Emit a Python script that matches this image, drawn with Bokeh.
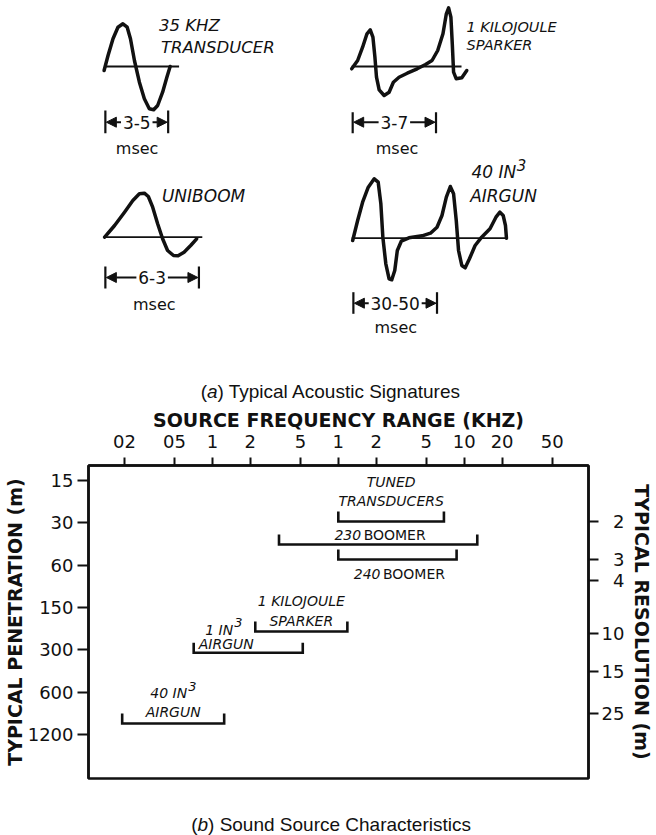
import math
from bokeh.plotting import figure
from bokeh.layouts import column
from bokeh.models import Range1d, FixedTicker, LinearAxis, Arrow, NormalHead, ColumnDataSource
from bokeh.core.properties import value
from bokeh.embed import file_html
from bokeh.resources import INLINE

# ------------------------------------------------------------------ data
# (a) typical acoustic signatures: time along trace, amplitude (sketch units)
transducer_t = [0, 4, 9, 14, 19, 23.3, 26.6, 30.6, 35.6, 40.6, 45.6, 50, 54, 59, 63.3, 66.6]
transducer_a = [-4, 11, 27.7, 39.3, 42.7, 39.3, 27.7, 6, -15.7, -32.3, -42.3, -43.3, -39, -25.7, -10.7, 0]

sparker_t = [0, 6, 11, 15.4, 18.7, 21.4, 23.4, 25, 27.7, 32.7, 37.7, 42, 47.7, 56, 66, 74.4,
             81, 86.7, 92, 95.4, 97.7, 100, 101.4, 102.7, 105.4, 111, 116]
sparker_a = [-2.3, 6, 19.3, 32.7, 36.7, 29.3, 9.3, -10.7, -23.3, -29, -25.7, -15.7, -10.7, -6.7, -2.3, 2,
             6, 16, 32.7, 52.7, 58.7, 49.3, 22.7, -5.7, -12.3, -11.3, -4]

uniboom_t = [0, 10, 20, 28.4, 35, 40, 44, 48.4, 53.4, 58.4, 63.4, 69.4, 74, 80, 86.7, 92.7]
uniboom_a = [0, 11.7, 25, 36.7, 43.4, 44, 40.7, 30, 13.4, -1.6, -13.3, -18.3, -18.6, -15, -8.3, -1.6]

airgun_t = [1, 6, 11, 16.7, 22.7, 26.7, 29.4, 31.4, 34.4, 37.7, 40.4, 43.4, 46, 50, 57.7, 71, 79.4, 86,
            91, 95.4, 99.4, 102.7, 105.4, 107.7, 111, 114.4, 118.7, 124.4, 131, 139.4, 145.4, 149.4,
            152.7, 155, 156]
airgun_a = [-2.3, 17.7, 36, 51, 59.4, 56, 34.4, 1, -25.6, -40.6, -41.6, -32.3, -12.3, -3, 0.4, 2.4, 5, 11,
            22.7, 41, 51.7, 44.4, 17.7, -12.3, -27.3, -29.6, -20.6, -7.3, 1, 9.4, 21, 26,
            22.7, 12.7, 0]

pulse_labels = ["3-5", "3-7", "6-3", "30-50"]
pulse_unit = "msec"
sig_line1 = ["35 KHZ", "1 KILOJOULE", "UNIBOOM", "40 IN"]
sig_line2 = ["TRANSDUCER", "SPARKER", "", "AIRGUN"]

# (b) sound source characteristics
freq_ticks = [0.02, 0.05, 0.1, 0.2, 0.5, 1, 2, 5, 10, 20, 50]
freq_tick_labels = ["02", "05", "1", "2", "5", "1", "2", "5", "10", "20", "50"]
pen_labels = ["15", "30", "60", "150", "300", "600", "1200"]
res_labels = ["2", "3", "4", "10", "15", "25"]
res_pos = [0.969, 1.866, 2.362, 3.614, 4.512, 5.504]      # on the penetration-row scale

src_low = [1.0, 0.338, 1.0, 0.219, 0.071, 0.0192]           # kHz
src_high = [6.9, 12.7, 8.7, 1.18, 0.522, 0.124]             # kHz
src_pen = [0.969, 1.512, 1.866, 3.567, 4.07, 5.74]          # penetration row

caption_a = ("(", "a", ") Typical Acoustic Signatures")
caption_b = ("(", "b", ") Sound Source Characteristics")

# ------------------------------------------------------------------ style / layout
INK = "#111111"
SANS = value("DejaVu Sans")
ARIAL = value("Liberation Sans")
W = 656
TOP_H, CH_H, CAP_H = 402, 398, 35
CH_TOP = 63
BL, BR = 87, 65                      # left / right borders shared by all panels
FX0, FX1 = BL, W - BR                # frame extent in page pixels

# ------------------------------------------------------------------ (a) panel
ptop = figure(width=W, height=TOP_H, x_range=Range1d(FX0, FX1), y_range=Range1d(TOP_H, 0),
              x_axis_location=None, y_axis_location=None, output_backend="svg",
              toolbar_location=None, min_border_left=BL, min_border_right=BR,
              min_border_top=0, min_border_bottom=0, outline_line_color=None)
ptop.grid.visible = False

panels = [
    dict(t=transducer_t, a=transducer_a, ox=102.7, oy=66, base=75.6, bars=(104, 167.3), bar_y=(110, 132.7),
         dim_y=121.7, unit=(136, 148), l1=(158, 25, 16.5), l2=(160, 47, 16.5)),
    dict(t=sparker_t, a=sparker_a, ox=352.3, oy=66, base=110.7, bars=(353.3, 437.3), bar_y=(111.7, 132.7),
         dim_y=121.7, unit=(398, 148), l1=(468, 26, 14.5), l2=(468, 44.7, 14.5)),
    dict(t=uniboom_t, a=uniboom_a, ox=103.3, oy=236.7, base=98.4, bars=(104, 198.3), bar_y=(266, 288),
         dim_y=277, unit=(153.3, 304), l1=(161, 195, 17), l2=(161, 215, 17)),
    dict(t=airgun_t, a=airgun_a, ox=352.3, oy=237.7, base=156, bars=(354, 438.3), bar_y=(291.7, 313.3),
         dim_y=302.7, unit=(396.7, 327), l1=(473, 171.6, 17), l2=(471.7, 195, 17)),
]

def text_width(s, fs):
    w = {"-": 0.361, " ": 0.318, "I": 0.295, "N": 0.748}
    return sum(w.get(c, 0.636) for c in s) * fs

ar = dict(x0=[], y0=[], x1=[], y1=[])
for i, pn in enumerate(panels):
    xs = [pn["ox"] + t for t in pn["t"]]
    ys = [pn["oy"] - a for a in pn["a"]]
    ptop.line([pn["ox"], pn["ox"] + pn["base"]], [pn["oy"], pn["oy"]], line_color=INK, line_width=1.8)
    ptop.line(xs, ys, line_color=INK, line_width=3.5, line_join="round", line_cap="round")
    bl, br = pn["bars"]
    ptop.segment(x0=[bl, br], y0=[pn["bar_y"][0]] * 2, x1=[bl, br], y1=[pn["bar_y"][1]] * 2,
                 line_color=INK, line_width=2.2)
    mid = (bl + br) / 2
    half = text_width(pulse_labels[i], 17) / 2 + 2
    ar["x0"] += [mid - half, mid + half]
    ar["x1"] += [bl + 1, br - 1]
    ar["y0"] += [pn["dim_y"]] * 2
    ar["y1"] += [pn["dim_y"]] * 2
    ptop.text(x=[mid], y=[pn["dim_y"]], text=[pulse_labels[i]], text_font=SANS, text_font_size="17px",
              text_align="center", text_baseline="middle", text_color=INK)
    ptop.text(x=[pn["unit"][0]], y=[pn["unit"][1]], text=[pulse_unit], text_font=SANS,
              text_font_size="16px", text_align="center", text_baseline="middle", text_color=INK)
    for lab, pos in ((sig_line1[i], pn["l1"]), (sig_line2[i], pn["l2"])):
        if lab:
            ptop.text(x=[pos[0]], y=[pos[1]], text=[lab], text_font=SANS, text_font_size=f"{pos[2]}px",
                      text_font_style="italic", text_align="left", text_baseline="middle", text_color=INK)

# superscript 3 of "40 IN3"
pn = panels[3]
ptop.text(x=[pn["l1"][0] + text_width(sig_line1[3], 17) + 1], y=[pn["l1"][1] - 7], text=["3"],
          text_font=SANS, text_font_size="15px", text_font_style="italic", text_align="left",
          text_baseline="middle", text_color=INK)

ptop.add_layout(Arrow(end=NormalHead(size=10, line_color=INK, fill_color=INK, line_width=1),
                      source=ColumnDataSource(ar), x_start="x0", y_start="y0", x_end="x1", y_end="y1",
                      line_color=INK, line_width=2))

# caption (a)
cap_fs = 19
cx, cy = 331, 390.5
tot = 13.78 * cap_fs
x0 = cx - tot / 2
ptop.text(x=[x0], y=[cy], text=[caption_a[0]], text_font=ARIAL, text_font_size=f"{cap_fs}px",
          text_baseline="middle", text_color=INK)
ptop.text(x=[x0 + 0.333 * cap_fs], y=[cy], text=[caption_a[1]], text_font=ARIAL,
          text_font_size=f"{cap_fs}px", text_font_style="italic", text_baseline="middle", text_color=INK)
ptop.text(x=[x0 + 0.889 * cap_fs], y=[cy], text=[caption_a[2]], text_font=ARIAL,
          text_font_size=f"{cap_fs}px", text_baseline="middle", text_color=INK)

# ------------------------------------------------------------------ (b) chart
pc = figure(width=W, height=CH_H, x_axis_type="log", x_range=Range1d(0.01037, 97.1),
            y_range=Range1d(7.04, -0.354), x_axis_location="above", y_axis_location="left",
            output_backend="svg", toolbar_location=None,
            min_border_left=BL, min_border_right=BR, min_border_top=CH_TOP, min_border_bottom=22)
pc.xgrid.grid_line_color = None
pc.ygrid.grid_line_color = None
pc.outline_line_color = INK
pc.outline_line_width = 2.5

def style_axis(ax, tick_out, label):
    ax.axis_line_color = INK
    ax.axis_line_width = 2.5
    ax.major_tick_line_color = INK
    ax.major_tick_line_width = 2
    ax.major_tick_in = 0
    ax.major_tick_out = tick_out
    ax.minor_tick_line_color = None
    ax.major_label_text_font = "DejaVu Sans"
    ax.major_label_text_font_size = "18px"
    ax.major_label_text_color = INK
    ax.axis_label = label
    ax.axis_label_text_font = "DejaVu Sans"
    ax.axis_label_text_font_size = "19px"
    ax.axis_label_text_font_style = "bold"
    ax.axis_label_text_color = INK

xa = pc.xaxis[0]
xa.ticker = FixedTicker(ticks=freq_ticks, minor_ticks=[])
xa.major_label_overrides = {k: v for k, v in zip(freq_ticks, freq_tick_labels)}
style_axis(xa, 8, "SOURCE FREQUENCY RANGE (KHZ)")
xa.major_label_standoff = 10
xa.axis_label_standoff = 1

ya = pc.yaxis[0]
ya.ticker = FixedTicker(ticks=list(range(len(pen_labels))), minor_ticks=[])
ya.major_label_overrides = {i: v for i, v in enumerate(pen_labels)}
style_axis(ya, 11, "TYPICAL PENETRATION (m)")
ya.major_label_standoff = 4
ya.axis_label_standoff = -1

ra = LinearAxis(ticker=FixedTicker(ticks=res_pos, minor_ticks=[]),
                major_label_overrides={p: (v if len(v) > 1 else "\u2007" + v) for p, v in zip(res_pos, res_labels)})
style_axis(ra, 10, "TYPICAL RESOLUTION (m)")
ra.major_label_standoff = 3
ra.axis_label_standoff = 4
pc.add_layout(ra, "right")

# brackets
ppi = 313 / (7.04 + 0.354)
cap = 10 / ppi
bxs = [[lo, lo, hi, hi] for lo, hi in zip(src_low, src_high)]
bys = [[y - cap, y, y, y - cap] for y in src_pen]
pc.multi_line(xs=bxs, ys=bys, line_color=INK, line_width=2.6, line_join="miter")

mids = [math.sqrt(lo * hi) for lo, hi in zip(src_low, src_high)]
# (text, source index, dx px, dy px, italic, align, size)
labels = [
    ("TUNED", 0, 0, -40, True, "center", 14),
    ("TRANSDUCERS", 0, 0, -21, True, "center", 14),
    ("230", 1, -17, -9, True, "right", 14),
    ("BOOMER", 1, -14.5, -9, False, "left", 14),
    ("240", 2, -17, 15, True, "right", 14),
    ("BOOMER", 2, -14.5, 15, False, "left", 14),
    ("1 KILOJOULE", 3, 0, -30, True, "center", 14),
    ("SPARKER", 3, 0, -10.5, True, "center", 14),
    ("1 IN", 4, -15, -23, True, "right", 14),
    ("3", 4, -14, -30, True, "left", 13),
    ("AIRGUN", 4, -22, -9, True, "center", 14),
    ("40 IN", 5, 14, -30.5, True, "right", 14),
    ("3", 5, 15, -37, True, "left", 13),
    ("AIRGUN", 5, 0, -11.3, True, "center", 14),
]
for txt, i, dx, dy, it, al, fs in labels:
    pc.text(x=[mids[i]], y=[src_pen[i]], text=[txt], x_offset=dx, y_offset=dy, text_font=SANS,
            text_font_size=f"{fs}px", text_font_style="italic" if it else "normal",
            text_align=al, text_baseline="middle", text_color=INK)

# ------------------------------------------------------------------ caption (b)
Y0 = TOP_H + CH_H
pcap = figure(width=W, height=CAP_H, x_range=Range1d(FX0, FX1), y_range=Range1d(Y0 + CAP_H, Y0),
              x_axis_location=None, y_axis_location=None, output_backend="svg",
              toolbar_location=None, min_border_left=BL, min_border_right=BR,
              min_border_top=0, min_border_bottom=0, outline_line_color=None)
pcap.grid.visible = False
bx, by = 330.5, 824
totb = 14.727 * cap_fs
x0 = bx - totb / 2
pcap.text(x=[x0], y=[by], text=[caption_b[0]], text_font=ARIAL, text_font_size=f"{cap_fs}px",
          text_baseline="alphabetic", text_color=INK)
pcap.text(x=[x0 + 0.333 * cap_fs], y=[by], text=[caption_b[1]], text_font=ARIAL,
          text_font_size=f"{cap_fs}px", text_font_style="italic", text_baseline="alphabetic", text_color=INK)
pcap.text(x=[x0 + 0.889 * cap_fs], y=[by], text=[caption_b[2]], text_font=ARIAL,
          text_font_size=f"{cap_fs}px", text_baseline="alphabetic", text_color=INK)

layout = column(ptop, pc, pcap)
open("out.html", "w").write(file_html(layout, INLINE))
